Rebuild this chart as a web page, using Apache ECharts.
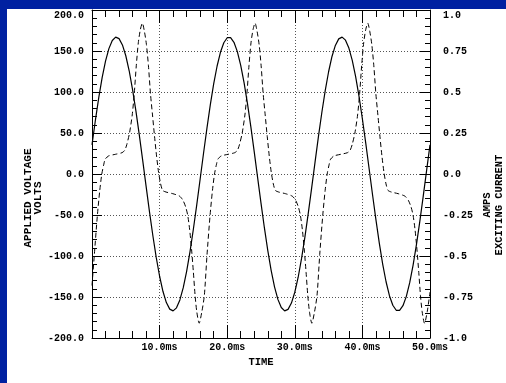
<!DOCTYPE html>
<html><head><meta charset="utf-8">
<script src="https://cdn.jsdelivr.net/npm/echarts@6/dist/echarts.min.js"></script>
<style>
html,body{margin:0;padding:0;background:#0021a1;width:506px;height:383px;overflow:hidden}
#chart{position:absolute;left:7px;top:9px;width:499px;height:374px;background:#fff}
</style></head><body><div id="chart"></div>
<script>
// ---- data ----
const timeMs = [0,0.5,1,1.5,2,2.5,3,3.5,4,4.5,5,5.5,6,6.5,7,7.5,8,8.5,9,9.5,10,10.5,11,11.5,12,12.5,13,13.5,14,14.5,15,15.5,16,16.5,17,17.5,18,18.5,19,19.5,20,20.5,21,21.5,22,22.5,23,23.5,24,24.5,25,25.5,26,26.5,27,27.5,28,28.5,29,29.5,30,30.5,31,31.5,32,32.5,33,33.5,34,34.5,35,35.5,36,36.5,37,37.5,38,38.5,39,39.5,40,40.5,41,41.5,42,42.5,43,43.5,44,44.5,45,45.5,46,46.5,47,47.5,48,48.5,49,49.5,50];
const appliedVolts = [35.6,65.5,93.1,117.5,137.6,152.9,162.8,166.9,165.1,157.4,144.2,125.9,103.0,76.6,47.4,16.6,-14.8,-45.8,-75.0,-101.7,-124.7,-143.3,-156.8,-164.8,-166.9,-163.2,-153.6,-138.6,-118.7,-94.6,-67.1,-37.3,-6.1,25.3,55.7,84.3,109.8,131.4,148.4,160.1,166.2,166.3,160.6,149.2,132.5,111.1,85.8,57.4,27.0,-4.4,
-35.6,-65.5,-93.1,-117.5,-137.6,-152.9,-162.8,-166.9,-165.1,-157.4,-144.2,-125.9,-103.0,-76.6,-47.4,-16.6,14.8,45.8,75.0,101.7,124.7,143.3,156.8,164.8,166.9,163.2,153.6,138.6,118.7,94.6,67.1,37.3,6.1,-25.3,-55.7,-84.3,-109.8,-131.4,-148.4,-160.1,-166.2,-166.3,-160.6,-149.2,-132.5,-111.1,-85.8,-57.4,-27.0,4.4,35.6];

const currentTime = [0,0.35,0.8,1.15,1.45,1.75,1.95,2.45,3.45,4.45,4.85,5.15,5.55,5.95,6.25,6.55,6.85,7.15,7.45,7.75,8.05,8.35,8.65,8.95,9.25,9.55,9.85,10.15,10.45,10.95,11.95,12.95,13.45,13.85,14.15,14.45,14.75,15.0,15.25,15.5,15.85,
16.25,16.62,17.02,17.47,17.82,18.12,18.42,18.62,19.12,20.12,21.12,21.52,21.82,22.22,22.62,22.92,23.22,23.52,23.82,24.12,24.42,24.72,25.02,25.32,25.62,25.92,26.22,26.52,26.82,27.12,27.62,28.62,29.62,30.12,30.52,30.82,31.12,31.42,31.67,31.92,32.17,32.52,
32.92,33.29,33.69,34.14,34.49,34.79,35.09,35.29,35.79,36.79,37.79,38.19,38.49,38.89,39.29,39.59,39.89,40.19,40.49,40.79,41.09,41.39,41.69,41.99,42.29,42.59,42.89,43.19,43.49,43.79,44.29,45.29,46.29,46.79,47.19,47.49,47.79,48.09,48.34,48.59,48.84,49.19,49.59,50];
const excitingAmps = [-0.68,-0.49,-0.25,-0.1,0.0,0.06,0.09,0.11,0.12,0.13,0.145,0.18,0.25,0.36,0.49,0.66,0.8,0.88,0.92,0.87,0.79,0.66,0.49,0.36,0.23,0.11,0.01,-0.06,-0.1,-0.11,-0.12,-0.135,-0.16,-0.2,-0.25,-0.34,-0.47,-0.6,-0.74,-0.84,-0.91,
-0.84,-0.74,-0.49,-0.25,-0.1,0.0,0.06,0.09,0.11,0.12,0.13,0.145,0.18,0.25,0.36,0.49,0.66,0.8,0.88,0.92,0.87,0.79,0.66,0.49,0.36,0.23,0.11,0.01,-0.06,-0.1,-0.11,-0.12,-0.135,-0.16,-0.2,-0.25,-0.34,-0.47,-0.6,-0.74,-0.84,-0.91,
-0.84,-0.74,-0.49,-0.25,-0.1,0.0,0.06,0.09,0.11,0.12,0.13,0.145,0.18,0.25,0.36,0.49,0.66,0.8,0.88,0.92,0.87,0.79,0.66,0.49,0.36,0.23,0.11,0.01,-0.06,-0.1,-0.11,-0.12,-0.135,-0.16,-0.2,-0.25,-0.34,-0.47,-0.6,-0.74,-0.84,-0.91,-0.84,-0.72];

const timeTicks = [0,10,20,30,40,50];
const timeTickLabels = ['','10.0ms','20.0ms','30.0ms','40.0ms','50.0ms'];
const voltTicks = [-200,-150,-100,-50,0,50,100,150,200];
const voltTickLabels = ['-200.0','-150.0','-100.0','-50.0','0.0','50.0','100.0','150.0','200.0'];
const ampTicks = [-1,-0.75,-0.5,-0.25,0,0.25,0.5,0.75,1];
const ampTickLabels = ['-1.0','-0.75','-0.5','-0.25','0.0','0.25','0.5','0.75','1.0'];

const xTitle = 'TIME';
const leftTitle = 'APPLIED VOLTAGE\nVOLTS';
const rightTitle = 'AMPS\nEXCITING CURRENT';

// ---- helpers ----
function lookup(ticks, labels) {
  return function (v) {
    for (let i = 0; i < ticks.length; i++) if (Math.abs(ticks[i] - v) < 1e-9) return labels[i];
    return '';
  };
}
const FONT = 'Liberation Mono';
const lbl = { color: '#000', fontFamily: FONT, fontWeight: 'bold', fontSize: 10 };
const black = { color: '#000', width: 1 };
const dotted = { type: [1, 2], color: '#555', width: 1 };

const chart = echarts.init(document.getElementById('chart'), null, { renderer: 'canvas' });
chart.setOption({
  animation: false,
  backgroundColor: '#fff',
  grid: { left: 85, right: 76, top: 1, bottom: 45, containLabel: false, outerBoundsMode: 'none' },
  xAxis: [
    {
      type: 'value', position: 'bottom', min: 0, max: 50, interval: 10,
      name: xTitle, nameLocation: 'middle', nameGap: 18,
      nameTextStyle: Object.assign({}, lbl, { fontSize: 10.5 }),
      axisLine: { show: true, onZero: false, lineStyle: black },
      axisTick: { show: true, inside: true, length: 13, lineStyle: black },
      minorTick: { show: true, splitNumber: 5, length: 7, lineStyle: black },
      axisLabel: Object.assign({ margin: 4, formatter: lookup(timeTicks, timeTickLabels) }, lbl),
      splitLine: { show: true, lineStyle: dotted }
    },
    {
      type: 'value', position: 'top', min: 0, max: 50, interval: 10,
      axisLine: { show: true, onZero: false, lineStyle: black },
      axisTick: { show: true, inside: true, length: 13, lineStyle: black },
      minorTick: { show: true, splitNumber: 5, length: 7, lineStyle: black },
      axisLabel: { show: false },
      splitLine: { show: false }
    }
  ],
  yAxis: [
    {
      type: 'value', position: 'left', min: -200, max: 200, interval: 50,
      axisLine: { show: true, onZero: false, lineStyle: black },
      axisTick: { show: true, inside: true, length: 10, lineStyle: black },
      minorTick: { show: true, splitNumber: 5, length: 5, lineStyle: black },
      axisLabel: Object.assign({ margin: 8, verticalAlignMaxLabel: 'top', formatter: lookup(voltTicks, voltTickLabels) }, lbl),
      splitLine: { show: true, lineStyle: dotted }
    },
    {
      type: 'value', position: 'right', min: -1, max: 1, interval: 0.25, alignTicks: false,
      axisLine: { show: true, onZero: false, lineStyle: black },
      axisTick: { show: true, inside: true, length: 10, lineStyle: black },
      minorTick: { show: true, splitNumber: 5, length: 5, lineStyle: black },
      axisLabel: Object.assign({ margin: 13, verticalAlignMaxLabel: 'top', formatter: lookup(ampTicks, ampTickLabels) }, lbl),
      splitLine: { show: false }
    }
  ],
  graphic: [
    { type: 'text', x: 26, y: 189, rotation: Math.PI / 2,
      style: { text: leftTitle, align: 'center', verticalAlign: 'middle', fill: '#000',
               font: 'bold 11px "' + FONT + '"', lineHeight: 10 } },
    { type: 'text', x: 486, y: 196, rotation: Math.PI / 2,
      style: { text: rightTitle, align: 'center', verticalAlign: 'middle', fill: '#000',
               font: 'bold 10.5px "' + FONT + '"', lineHeight: 12 } }
  ],
  series: [
    {
      name: 'APPLIED VOLTAGE', type: 'line', xAxisIndex: 0, yAxisIndex: 0,
      data: timeMs.map((t, i) => [t, appliedVolts[i]]),
      showSymbol: false, smooth: false, clip: true,
      lineStyle: { color: '#000', width: 1.2 }
    },
    {
      name: 'EXCITING CURRENT', type: 'line', xAxisIndex: 0, yAxisIndex: 1,
      data: currentTime.map((t, i) => [t, excitingAmps[i]]),
      showSymbol: false, smooth: 0.25, clip: true,
      lineStyle: { color: '#000', width: 1, type: [5, 3] }
    }
  ]
});
</script></body></html>
